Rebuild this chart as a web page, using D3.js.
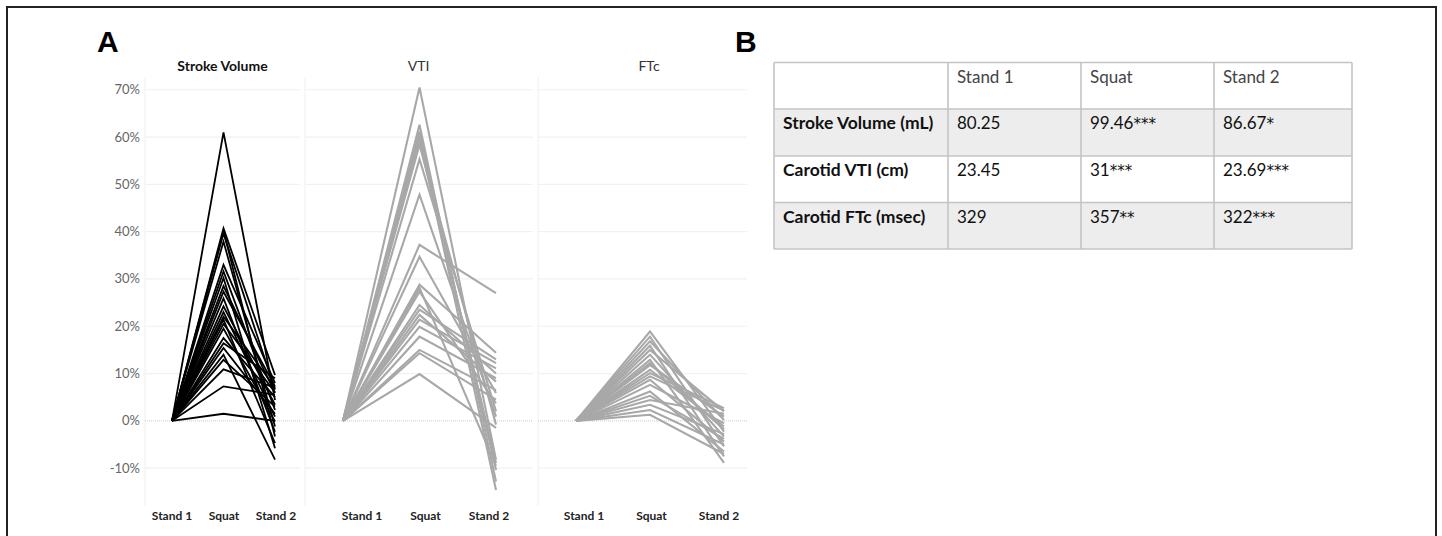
<!DOCTYPE html>
<html>
<head>
<meta charset="utf-8">
<script src="https://cdn.jsdelivr.net/npm/d3@7"></script>
<style>
  body { margin: 0; background: #fff; }
  svg { display: block; }
</style>
</head>
<body>
<svg id="fig" width="1442" height="536"></svg>
<script>
// stages on the x axis of every panel
var stages = ["Stand 1", "Squat", "Stand 2"];
var yTicks = [-0.1, 0, 0.1, 0.2, 0.3, 0.4, 0.5, 0.6, 0.7];

// % change from Stand 1 (Stand 1 is the reference, so it is 0 for everyone)
var baseline = 0;

var svSquat  = [0.610, 0.407, 0.402, 0.396, 0.379, 0.330, 0.316, 0.302, 0.285, 0.273, 0.259, 0.242, 0.230,
                0.220, 0.214, 0.205, 0.195, 0.175, 0.164, 0.154, 0.140, 0.129, 0.109, 0.073, 0.015];
var svStand2 = [0.044, 0.097, -0.033, 0.066, -0.012, 0.080, 0.023, -0.058, 0.059, 0.073, -0.023, 0.034, 0.009,
                0.070, -0.047, 0.060, -0.001, 0.050, 0.090, 0.015, -0.082, 0.030, 0.070, 0.055, 0.000];

var vtiSquat  = [0.705, 0.626, 0.612, 0.601, 0.590, 0.584, 0.553, 0.478, 0.372, 0.347, 0.288,
                 0.281, 0.273, 0.245, 0.235, 0.224, 0.214, 0.199, 0.178, 0.150, 0.143, 0.099];
var vtiStand2 = [-0.082, -0.128, -0.104, -0.146, -0.089, -0.008, 0.020, 0.009, 0.270, 0.059, 0.144,
                 -0.095, 0.037, 0.100, 0.130, 0.083, 0.122, 0.111, 0.090, 0.065, 0.045, -0.015];

var ftcSquat  = [0.189, 0.178, 0.168, 0.159, 0.150, 0.140, 0.129, 0.122, 0.118, 0.108,
                 0.101, 0.094, 0.087, 0.076, 0.062, 0.053, 0.044, 0.034, 0.023, 0.013];
var ftcStand2 = [-0.023, -0.054, 0.002, -0.075, 0.020, -0.033, -0.089, -0.018, 0.009, -0.012,
                 0.027, 0.022, -0.044, -0.005, -0.065, -0.038, 0.015, -0.028, -0.050, -0.070];

// table B
var tableHeader = ["", "Stand 1", "Squat", "Stand 2"];
var tableRowNames = ["Stroke Volume (mL)", "Carotid VTI (cm)", "Carotid FTc (msec)"];
var tableStand1 = ["80.25", "23.45", "329"];
var tableSquat  = ["99.46***", "31***", "357**"];
var tableStand2 = ["86.67*", "23.69***", "322***"];

var panels = [
  {title: "Stroke Volume", bold: true, squat: svSquat, stand2: svStand2, color: "#000", width: 1.8,
   x0: 145, x1: 300, pad: [27, 25], lab: [27, 24]},
  {title: "VTI", bold: false, squat: vtiSquat, stand2: vtiStand2, color: "#a8a8a8", width: 2.1,
   x0: 305, x1: 533, pad: [38, 37], lab: [57, 44]},
  {title: "FTc", bold: false, squat: ftcSquat, stand2: ftcStand2, color: "#a8a8a8", width: 2.1,
   x0: 538, x1: 747, pad: [38, 23], lab: [46, 28]}
];

var svg = d3.select("#fig");
var font = "Lato, 'Open Sans', sans-serif";

// outer frame (open at the bottom)
svg.append("path")
  .attr("d", "M7,536 V7 H1436 V536")
  .attr("fill", "none").attr("stroke", "#222").attr("stroke-width", 2);

var y = d3.scaleLinear().domain([-0.18, 0.727]).range([506, 77]);

function pct(d) { return Math.round(d * 100) + "%"; }

// y axis labels
svg.append("g").selectAll("text")
  .data(yTicks).enter().append("text")
  .attr("x", 140).attr("y", function(d) { return y(d) + 4.5; })
  .attr("text-anchor", "end")
  .attr("font-family", font).attr("font-size", 13).attr("fill", "#666")
  .text(pct);

panels.forEach(function(p) {
  var g = svg.append("g");
  var x = d3.scalePoint().domain(stages).range([p.x0 + p.pad[0], p.x1 - p.pad[1]]);
  var xl = d3.scalePoint().domain(stages).range([p.x0 + p.lab[0], p.x1 - p.lab[1]]);

  // panel edge
  g.append("line")
    .attr("x1", p.x0).attr("x2", p.x0).attr("y1", y.range()[1]).attr("y2", y.range()[0])
    .attr("stroke", "#f0f0f0");

  // gridlines
  g.selectAll("line.grid")
    .data(yTicks).enter().append("line")
    .attr("class", "grid")
    .attr("x1", p.x0).attr("x2", p.x1)
    .attr("y1", y).attr("y2", y)
    .attr("stroke", function(d) { return d === 0 ? "#d4d4d4" : "#f1f1f1"; })
    .attr("stroke-dasharray", function(d) { return d === 0 ? "1,1" : null; })
    .attr("stroke-width", 1.2);

  // title
  g.append("text")
    .attr("x", x("Squat") - 1).attr("y", 71)
    .attr("text-anchor", "middle")
    .attr("font-family", font).attr("font-size", 14)
    .attr("font-weight", p.bold ? "bold" : "normal")
    .attr("fill", p.bold ? "#111" : "#333")
    .text(p.title);

  // stage labels
  g.selectAll("text.stage")
    .data(stages).enter().append("text")
    .attr("class", "stage")
    .attr("x", function(d) { return xl(d); }).attr("y", 520)
    .attr("text-anchor", "middle")
    .attr("font-family", font).attr("font-size", 12).attr("font-weight", "bold")
    .attr("fill", "#222")
    .text(function(d) { return d; });

  // one line per subject
  var subjects = p.squat.map(function(s, i) {
    return [[stages[0], baseline], [stages[1], s], [stages[2], p.stand2[i]]];
  });
  var line = d3.line()
    .x(function(d) { return x(d[0]); })
    .y(function(d) { return y(d[1]); });

  g.selectAll("path.subj")
    .data(subjects).enter().append("path")
    .attr("class", "subj")
    .attr("d", line)
    .attr("fill", "none")
    .attr("stroke", p.color)
    .attr("stroke-width", p.width)
    .attr("stroke-linejoin", "miter");
});

// panel letters
svg.append("text").attr("x", 97).attr("y", 52)
  .attr("font-family", "'Liberation Sans', Arial, sans-serif").attr("font-size", 30)
  .attr("font-weight", "bold").text("A");
svg.append("text").attr("x", 735).attr("y", 52)
  .attr("font-family", "'Liberation Sans', Arial, sans-serif").attr("font-size", 30)
  .attr("font-weight", "bold").text("B");

// table
var colEdges = [774, 948, 1081, 1214, 1352];
var rowEdges = [62.5, 109, 156, 202.5, 249];
var tableRows = [tableHeader].concat(tableRowNames.map(function(n, i) {
  return [n, tableStand1[i], tableSquat[i], tableStand2[i]];
}));

var tb = svg.append("g");
tableRows.forEach(function(r, ri) {
  tb.append("rect")
    .attr("x", colEdges[0]).attr("y", rowEdges[ri])
    .attr("width", colEdges[4] - colEdges[0]).attr("height", rowEdges[ri + 1] - rowEdges[ri])
    .attr("fill", ri % 2 === 1 ? "#ededed" : "#fff");
  r.forEach(function(c, ci) {
    var bold = ci === 0 && ri > 0;
    var t = tb.append("text")
      .attr("x", colEdges[ci] + 9).attr("y", rowEdges[ri] + 20)
      .attr("font-family", font).attr("font-size", bold ? 17.5 : 17)
      .attr("font-weight", bold ? "bold" : "normal")
      .attr("fill", ri === 0 ? "#444" : "#111");
    // significance stars drawn a little larger, like the source font
    var m = c.match(/^([^*]*)(\**)$/);
    t.append("tspan").text(m[1]);
    if (m[2]) {
      t.append("tspan").attr("font-family", "'DejaVu Sans', sans-serif")
        .attr("font-size", 15).text(m[2]);
    }
  });
});
rowEdges.forEach(function(e) {
  tb.append("line").attr("x1", colEdges[0]).attr("x2", colEdges[4])
    .attr("y1", e).attr("y2", e).attr("stroke", "#c4c4c4").attr("stroke-width", 1.6);
});
colEdges.forEach(function(e) {
  tb.append("line").attr("x1", e).attr("x2", e)
    .attr("y1", rowEdges[0]).attr("y2", rowEdges[4]).attr("stroke", "#c4c4c4").attr("stroke-width", 1.6);
});
</script>
</body>
</html>
